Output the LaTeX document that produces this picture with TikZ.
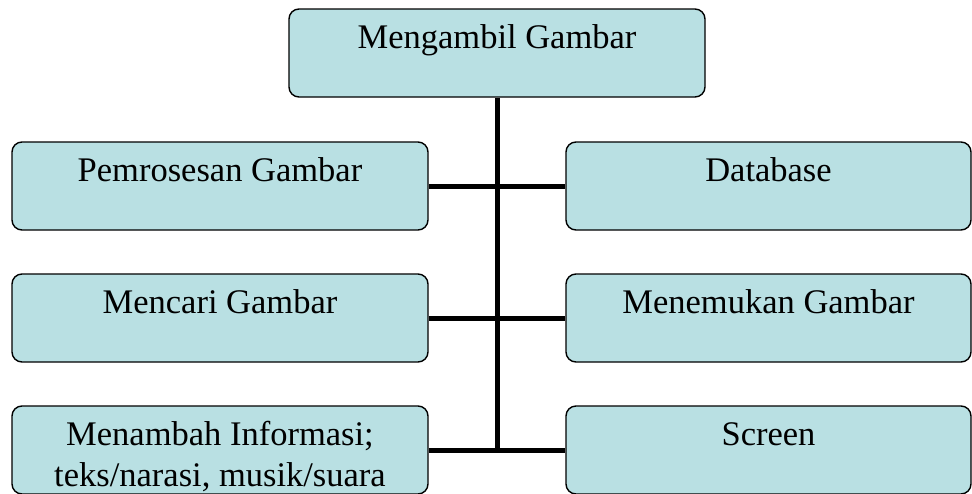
\documentclass[tikz,border=0pt]{standalone}
\usepackage{fontspec}
\setmainfont{Liberation Serif}
\usetikzlibrary{positioning}

\definecolor{kotak}{RGB}{185,224,227}

\begin{document}
\begin{tikzpicture}[
    x=1pt, y=-1pt,
    box/.style={
        rectangle, draw=black, fill=kotak, line width=1.4pt,
        rounded corners=10pt, align=center,
        inner ysep=0pt, text height=39pt, text depth=49pt,
        font=\fontsize{34.5}{41}\selectfont
    },
    boxl/.style={box, minimum width=416pt},
    boxr/.style={box, minimum width=405pt},
    conn/.style={line width=5pt}
]
\useasboundingbox (0,0) rectangle (972,493);

% Kotak utama
\node[boxl] (ambil) at (497,53) {Mengambil Gambar};

% Kolom kiri
\node[boxl] (proses) at (220,186) {Pemrosesan Gambar};
\node[boxl] (cari) at (220,318) {Mencari Gambar};
\node[boxl, text height=80pt, text depth=8pt] (info) at (220,450)
    {Menambah Informasi;\\teks/narasi, musik/suara};

% Kolom kanan
\node[boxr] (db) at (768.5,186) {Database};
\node[boxr] (temu) at (768.5,318) {Menemukan Gambar};
\node[boxr] (layar) at (768.5,450) {Screen};

% Garis penghubung
\coordinate (ujung) at (ambil.south |- info.east);
\draw[conn] (ambil.south) -- (ujung);
\draw[conn] (proses.east) -- (db.west);
\draw[conn] (cari.east) -- (temu.west);
\draw[conn] (info.east) -- (layar.west);

\end{tikzpicture}
\end{document}
